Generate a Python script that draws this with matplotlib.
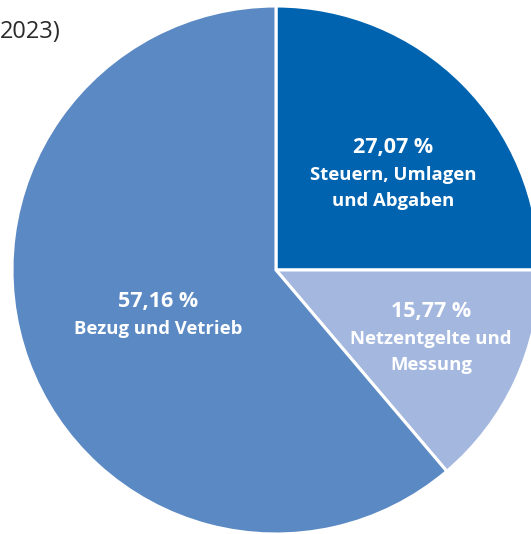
import matplotlib.pyplot as plt

# labels shown in the chart
percent_labels = ['27,07 %', '15,77 %', '57,16 %']
names = [['Steuern, Umlagen', 'und Abgaben'], ['Netzentgelte und', 'Messung'], ['Bezug und Vetrieb']]
# slice sizes as drawn in the picture (degrees of the circle / 360)
drawn_share = [25.0, 13.8, 61.2]
colors = ['#0063B0', '#A4B8DF', '#5B89C4']

W, H = 531, 534
fig = plt.figure(figsize=(W / 100, H / 100), dpi=100)
ax = fig.add_axes([0, 0, 1, 1])

cx, cy, r = 276, H - 270, 264
ax.pie(drawn_share, colors=colors, startangle=90, counterclock=False,
       center=(cx, cy), radius=r, frame=True,
       wedgeprops={'edgecolor': 'white', 'linewidth': 2.2})
ax.set_xlim(0, W)
ax.set_ylim(0, H)
ax.set_aspect('equal')
ax.axis('off')

# label positions in pixel coords (x, y of percent line)
pos = [(393, 148), (431, 312), (158, 302)]
for (x, y), p, n in zip(pos, percent_labels, names):
    ax.text(x, H - y, p, ha='center', va='center', color='white',
            fontsize=15.5, fontweight='bold', family='Open Sans')
    for i, line in enumerate(n):
        ax.text(x, H - y - 26.5 * (i + 1), line, ha='center', va='center',
                color='white', fontsize=13.3, fontweight='bold', family='Open Sans')

ax.text(0, H - 32, '2023)', ha='left', va='center', color='#2b2b2b',
        fontsize=17, family='Open Sans')

fig.savefig('out.png', dpi=100)
